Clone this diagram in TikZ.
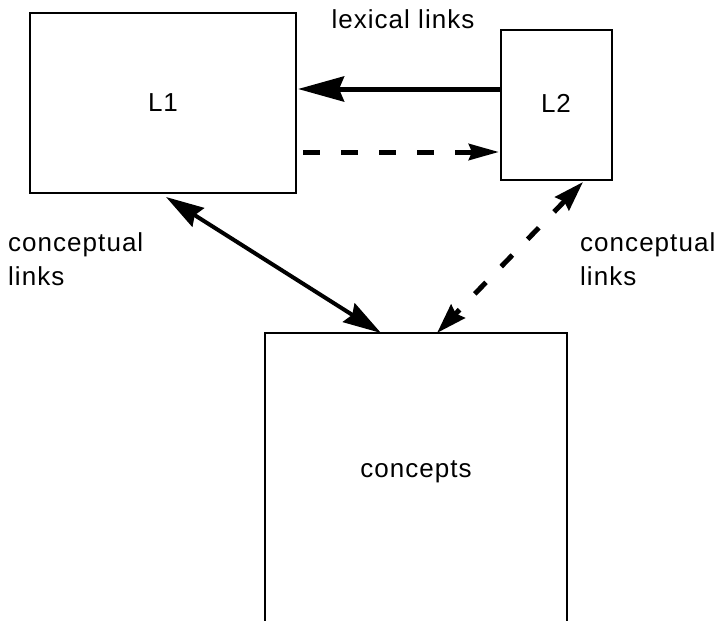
\documentclass[tikz,border=0pt]{standalone}
\usepackage{fontspec}
\setmainfont[LetterSpace=4]{Liberation Sans}
\usetikzlibrary{arrows.meta}
\begin{document}
\begin{tikzpicture}[x=1pt,y=-1pt,
  box/.style={draw=black,line width=2pt},
  lbl/.style={font=\fontsize{26}{31}\selectfont,inner sep=0pt},
  link/.style={line width=5pt},
  dlink/.style={line width=5pt,dash pattern=on 17pt off 21pt}]
  \useasboundingbox (0,0) rectangle (721,621);
  \clip (0,0) rectangle (721,621);
  % the three stores
  \draw[box] (30,13) rectangle (296,193);
  \draw[box] (501,30) rectangle (612,180);
  \draw[box] (265,660) -- (265,333) -- (567,333) -- (567,660);
  \coordinate (L1) at (163,103);
  \coordinate (L2) at (556,103);
  \coordinate (C) at (416,472);
  \node[lbl] at (L1) {L1};
  \node[lbl] at (L2) {L2};
  \node[lbl] at (C) {concepts};
  % link anchors
  \coordinate (a1) at (501,89);
  \coordinate (a2) at (298,89);
  \coordinate (b1) at (303,152);
  \coordinate (b2) at (499,152);
  \coordinate (c1) at (166,197);
  \coordinate (c2) at (381,333);
  \coordinate (d1) at (583,182);
  \coordinate (d2) at (437,333);
  % lexical links
  \draw[link,-{Stealth[length=46pt,width=25pt,inset=5pt]}] (a1) -- (a2);
  \draw[dlink,-{Stealth[length=30pt,width=16pt,inset=3pt]}] (b1) -- (b2);
  % conceptual links
  \draw[line width=4pt,{Stealth[length=38pt,width=22pt,inset=4pt]}-{Stealth[length=38pt,width=22pt,inset=4pt]}] (c1) -- (c2);
  \draw[link,dash pattern=on 16pt off 22pt,{Stealth[length=30pt,width=19pt,inset=3pt]}-{Stealth[length=30pt,width=19pt,inset=3pt]}] (d1) -- (d2);
  % labels
  \node[lbl,anchor=base] at (403,28) {lexical links};
  \node[lbl,anchor=base west] at (8,251) {conceptual};
  \node[lbl,anchor=base west] at (8,285) {links};
  \node[lbl,anchor=base west] at (580,251) {conceptual};
  \node[lbl,anchor=base west] at (580,285) {links};
\end{tikzpicture}
\end{document}
